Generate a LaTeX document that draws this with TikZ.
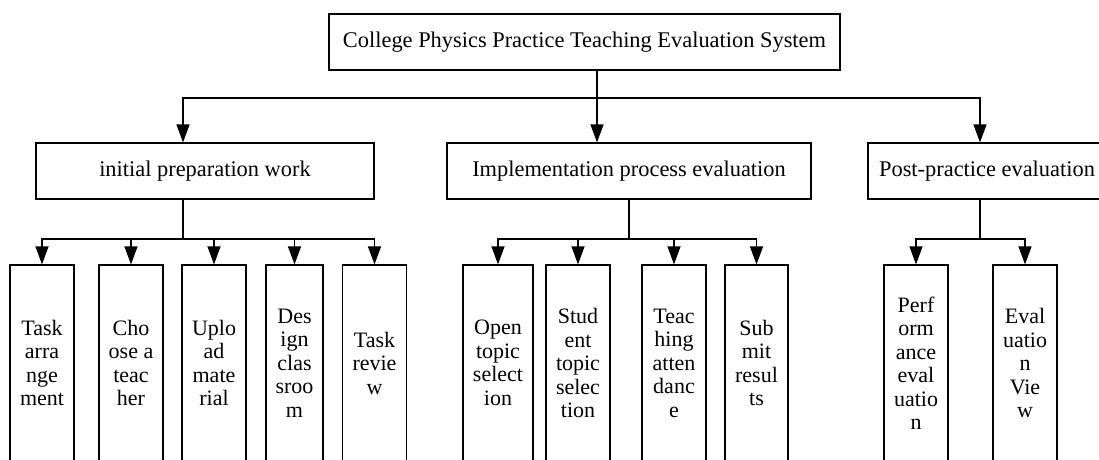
\documentclass[tikz,border=0pt]{standalone}
\usepackage{fontspec}
\setmainfont{Liberation Serif}
\usetikzlibrary{arrows.meta}

\begin{document}
\begin{tikzpicture}[
        x=1pt, y=-1pt,
        box/.style={rectangle, draw=black, line width=1.2pt, minimum height=56pt, inner sep=0pt, align=center, font=\fontsize{22.4}{26}\selectfont},
        leaf/.style={rectangle, draw=black, line width=1.2pt, minimum width=64pt, minimum height=196pt, inner sep=0pt, align=center, font=\fontsize{22}{23.5}\selectfont},
        arrow/.style={-{Triangle[length=18pt,width=13pt]}, line width=1.2pt},
        link/.style={line width=1.2pt}
    ]
        \useasboundingbox (0,0) rectangle (1099,459);
        \clip (0,0) rectangle (1099,459);

        \node[box, minimum width=511pt] (sys) at (584.5,42) {College Physics Practice Teaching Evaluation System};

        \node[box, minimum width=338pt] (prep) at (205,171) {initial preparation work};
        \node[box, minimum width=364pt] (impl) at (629,171) {Implementation process evaluation};
        \node[box, minimum width=238pt] (post) at (987,171) {Post-practice evaluation};

        \node[leaf] (task) at (42,363) {Task\\arra\\nge\\ment};
        \node[leaf] (teacher) at (131,363) {Cho\\ose a\\teac\\her};
        \node[leaf] (upload) at (214,363) {Uplo\\ad\\mate\\rial};
        \node[leaf, minimum width=57pt] (design) at (294.5,363) {Des\\ign\\clas\\sroo\\m};
        \node[leaf] (review) at (374.5,363) {Task\\revie\\w};

        \node[leaf, minimum width=70pt] (open) at (498,363) {Open\\topic\\select\\ion};
        \node[leaf] (student) at (578,363) {Stud\\ent\\topic\\selec\\tion};
        \node[leaf] (attend) at (674,363) {Teac\\hing\\atten\\danc\\e};
        \node[leaf, minimum width=63pt] (submit) at (756.5,363) {Sub\\mit\\resul\\ts};

        \node[leaf] (perf) at (916,363) {Perf\\orm\\ance\\eval\\uatio\\n};
        \node[leaf] (view) at (1025,363) {Eval\\uatio\\n\\Vie\\w};

        \coordinate (tjoin) at (597,98);
        \coordinate (pjoin) at (183,239);
        \coordinate (ijoin) at (629,239);
        \coordinate (qjoin) at (980,239);

        \draw[link] (tjoin |- sys.south) -- (tjoin);
        \draw[arrow] (tjoin) -| (prep.north -| pjoin);
        \draw[arrow] (tjoin) -- (tjoin |- impl.north);
        \draw[arrow] (tjoin) -| (post.north -| qjoin);

        \draw[link] (prep.south -| pjoin) -- (pjoin);
        \draw[arrow] (pjoin) -| (task.north);
        \draw[arrow] (pjoin) -| (teacher.north);
        \draw[arrow] (pjoin) -| (upload.north);
        \draw[arrow] (pjoin) -| (design.north);
        \draw[arrow] (pjoin) -| (review.north);

        \draw[link] (impl.south) -- (ijoin);
        \draw[arrow] (ijoin) -| (open.north);
        \draw[arrow] (ijoin) -| (student.north);
        \draw[arrow] (ijoin) -| (attend.north);
        \draw[arrow] (ijoin) -| (submit.north);

        \draw[link] (post.south -| qjoin) -- (qjoin);
        \draw[arrow] (qjoin) -| (perf.north);
        \draw[arrow] (qjoin) -| (view.north);
    \end{tikzpicture}
\end{document}
